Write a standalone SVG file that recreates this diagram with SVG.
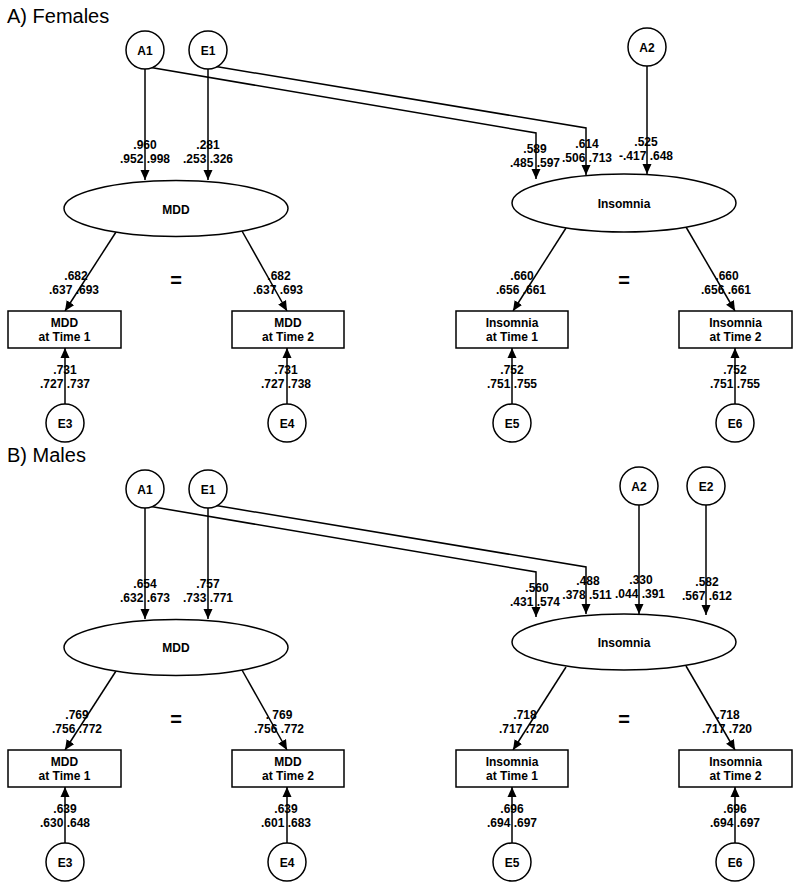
<svg xmlns="http://www.w3.org/2000/svg" width="800" height="889" viewBox="0 0 800 889">
<style>
.bg{fill:#fff}
.ln{fill:none;stroke:#000;stroke-width:1.5}
.sh{fill:#fff;stroke:#000;stroke-width:1.5}
.t{font-family:"Liberation Sans",Arial,sans-serif;font-size:12px;font-weight:bold;text-anchor:middle;fill:#000}
.ttl{font-family:"Liberation Sans",Arial,sans-serif;font-size:20px;fill:#000}
.eq{font-family:"Liberation Sans",Arial,sans-serif;font-size:20px;font-weight:bold;text-anchor:middle;fill:#000}
</style>
<defs>
<marker id="ah" markerUnits="userSpaceOnUse" markerWidth="10" markerHeight="10" refX="10" refY="5" orient="auto">
<path d="M0,0.5 L10,5 L0,9.5 z" fill="#000"/>
</marker>
</defs>
<rect class="bg" x="0" y="0" width="800" height="889"/>
<text class="ttl" x="7" y="23">A) Females</text>
<text class="ttl" x="7" y="462">B) Males</text>

<g id="connectors">
<!-- Panel A -->
<path class="ln" marker-end="url(#ah)" d="M145,69 L145,180"/>
<path class="ln" marker-end="url(#ah)" d="M208,69 L208,180"/>
<path class="ln" marker-end="url(#ah)" d="M148,67 L536,133 L536,179"/>
<path class="ln" marker-end="url(#ah)" d="M213,66 L586,128 L586,175"/>
<path class="ln" marker-end="url(#ah)" d="M647,66 L647,174"/>
<path class="ln" marker-end="url(#ah)" d="M116,232 L65,311"/>
<path class="ln" marker-end="url(#ah)" d="M242,231 L287,311"/>
<path class="ln" marker-end="url(#ah)" d="M566,228 L513,311"/>
<path class="ln" marker-end="url(#ah)" d="M686,227 L735,311"/>
<path class="ln" marker-end="url(#ah)" d="M65,404 L65,348"/>
<path class="ln" marker-end="url(#ah)" d="M287,404 L287,348"/>
<path class="ln" marker-end="url(#ah)" d="M512,404 L512,348"/>
<path class="ln" marker-end="url(#ah)" d="M735,404 L735,348"/>
<!-- Panel B -->
<path class="ln" marker-end="url(#ah)" d="M145,508 L145,619"/>
<path class="ln" marker-end="url(#ah)" d="M208,508 L208,619"/>
<path class="ln" marker-end="url(#ah)" d="M148,506 L536,572 L536,617"/>
<path class="ln" marker-end="url(#ah)" d="M213,505 L586,567 L586,614"/>
<path class="ln" marker-end="url(#ah)" d="M639,505 L639,614"/>
<path class="ln" marker-end="url(#ah)" d="M706,505 L706,615"/>
<path class="ln" marker-end="url(#ah)" d="M116,671 L65,750"/>
<path class="ln" marker-end="url(#ah)" d="M242,670 L287,750"/>
<path class="ln" marker-end="url(#ah)" d="M566,667 L513,750"/>
<path class="ln" marker-end="url(#ah)" d="M686,666 L735,750"/>
<path class="ln" marker-end="url(#ah)" d="M65,843 L65,787"/>
<path class="ln" marker-end="url(#ah)" d="M287,843 L287,787"/>
<path class="ln" marker-end="url(#ah)" d="M512,843 L512,787"/>
<path class="ln" marker-end="url(#ah)" d="M735,843 L735,787"/>
</g>

<g id="labels">
<text class="t" x="145" y="149">.960</text>
<text class="t" x="145" y="163">.952 .998</text>
<text class="t" x="208" y="149">.281</text>
<text class="t" x="208" y="163">.253 .326</text>
<text class="t" x="535" y="153">.589</text>
<text class="t" x="535" y="167">.485 .597</text>
<text class="t" x="587" y="148">.614</text>
<text class="t" x="587" y="162">.506 .713</text>
<text class="t" x="646" y="146">.525</text>
<text class="t" x="646" y="160">-.417 .648</text>
<text class="t" x="76" y="280">.682</text>
<text class="t" x="74" y="294">.637 .693</text>
<text class="t" x="279" y="280">.682</text>
<text class="t" x="278" y="294">.637 .693</text>
<text class="t" x="522" y="280">.660</text>
<text class="t" x="521" y="294">.656 .661</text>
<text class="t" x="727" y="280">.660</text>
<text class="t" x="726" y="294">.656 .661</text>
<text class="t" x="65" y="374">.731</text>
<text class="t" x="65" y="388">.727 .737</text>
<text class="t" x="286" y="374">.731</text>
<text class="t" x="286" y="388">.727 .738</text>
<text class="t" x="512" y="374">.752</text>
<text class="t" x="512" y="388">.751 .755</text>
<text class="t" x="735" y="374">.752</text>
<text class="t" x="735" y="388">.751 .755</text>
<text class="eq" x="176" y="287">=</text>
<text class="eq" x="624" y="287">=</text>

<text class="t" x="145" y="588">.654</text>
<text class="t" x="145" y="602">.632 .673</text>
<text class="t" x="208" y="588">.757</text>
<text class="t" x="208" y="602">.733 .771</text>
<text class="t" x="537" y="592">.560</text>
<text class="t" x="535" y="606">.431 .574</text>
<text class="t" x="588" y="585">.488</text>
<text class="t" x="587" y="599">.378 .511</text>
<text class="t" x="641" y="584">.330</text>
<text class="t" x="640" y="598">.044 .391</text>
<text class="t" x="707" y="586">.582</text>
<text class="t" x="707" y="600">.567 .612</text>
<text class="t" x="77" y="719">.769</text>
<text class="t" x="77" y="733">.756 .772</text>
<text class="t" x="279" y="719">. 769</text>
<text class="t" x="279" y="733">.756 .772</text>
<text class="t" x="525" y="719">.718</text>
<text class="t" x="524" y="733">.717 .720</text>
<text class="t" x="728" y="719">.718</text>
<text class="t" x="727" y="733">.717 .720</text>
<text class="t" x="65" y="813">.639</text>
<text class="t" x="65" y="827">.630 .648</text>
<text class="t" x="286" y="813">.639</text>
<text class="t" x="286" y="827">.601 .683</text>
<text class="t" x="512" y="813">.696</text>
<text class="t" x="512" y="827">.694 .697</text>
<text class="t" x="735" y="813">.696</text>
<text class="t" x="735" y="827">.694 .697</text>
<text class="eq" x="176" y="726">=</text>
<text class="eq" x="624" y="726">=</text>
</g>

<!-- Panel A nodes -->
<g id="A_A1"><circle class="sh" cx="145" cy="50" r="19"/><text class="t" x="145" y="54.5">A1</text></g>
<g id="A_E1"><circle class="sh" cx="208" cy="50" r="19"/><text class="t" x="208" y="54.5">E1</text></g>
<g id="A_A2"><circle class="sh" cx="647" cy="47" r="19"/><text class="t" x="647" y="51.5">A2</text></g>
<g id="A_MDD"><ellipse class="sh" cx="176" cy="208.5" rx="112" ry="28"/><text class="t" x="176" y="213.5">MDD</text></g>
<g id="A_Insomnia"><ellipse class="sh" cx="624" cy="203" rx="112" ry="29"/><text class="t" x="624" y="207.5">Insomnia</text></g>
<g id="A_MDD_T1"><rect class="sh" x="8" y="311" width="113" height="37"/><text class="t" x="64.5" y="327">MDD</text><text class="t" x="64.5" y="341">at Time 1</text></g>
<g id="A_MDD_T2"><rect class="sh" x="232" y="311" width="112" height="37"/><text class="t" x="288" y="327">MDD</text><text class="t" x="288" y="341">at Time 2</text></g>
<g id="A_Ins_T1"><rect class="sh" x="456" y="311" width="112" height="37"/><text class="t" x="512" y="327">Insomnia</text><text class="t" x="512" y="341">at Time 1</text></g>
<g id="A_Ins_T2"><rect class="sh" x="679" y="311" width="113" height="37"/><text class="t" x="735.5" y="327">Insomnia</text><text class="t" x="735.5" y="341">at Time 2</text></g>
<g id="A_E3"><circle class="sh" cx="65" cy="423" r="19"/><text class="t" x="65" y="427.5">E3</text></g>
<g id="A_E4"><circle class="sh" cx="287" cy="423" r="19"/><text class="t" x="287" y="427.5">E4</text></g>
<g id="A_E5"><circle class="sh" cx="512" cy="423" r="19"/><text class="t" x="512" y="427.5">E5</text></g>
<g id="A_E6"><circle class="sh" cx="735" cy="423" r="19"/><text class="t" x="735" y="427.5">E6</text></g>

<!-- Panel B nodes -->
<g id="B_A1"><circle class="sh" cx="145" cy="489" r="19"/><text class="t" x="145" y="493.5">A1</text></g>
<g id="B_E1"><circle class="sh" cx="208" cy="489" r="19"/><text class="t" x="208" y="493.5">E1</text></g>
<g id="B_A2"><circle class="sh" cx="639" cy="486" r="19"/><text class="t" x="639" y="490.5">A2</text></g>
<g id="B_E2"><circle class="sh" cx="706" cy="486" r="19"/><text class="t" x="706" y="490.5">E2</text></g>
<g id="B_MDD"><ellipse class="sh" cx="176" cy="647.5" rx="112" ry="28"/><text class="t" x="176" y="652">MDD</text></g>
<g id="B_Insomnia"><ellipse class="sh" cx="624" cy="642" rx="112" ry="28"/><text class="t" x="624" y="647">Insomnia</text></g>
<g id="B_MDD_T1"><rect class="sh" x="8" y="750" width="113" height="37"/><text class="t" x="64.5" y="766">MDD</text><text class="t" x="64.5" y="780">at Time 1</text></g>
<g id="B_MDD_T2"><rect class="sh" x="232" y="750" width="112" height="37"/><text class="t" x="288" y="766">MDD</text><text class="t" x="288" y="780">at Time 2</text></g>
<g id="B_Ins_T1"><rect class="sh" x="456" y="750" width="112" height="37"/><text class="t" x="512" y="766">Insomnia</text><text class="t" x="512" y="780">at Time 1</text></g>
<g id="B_Ins_T2"><rect class="sh" x="679" y="750" width="113" height="37"/><text class="t" x="735.5" y="766">Insomnia</text><text class="t" x="735.5" y="780">at Time 2</text></g>
<g id="B_E3"><circle class="sh" cx="65" cy="862" r="19"/><text class="t" x="65" y="866.5">E3</text></g>
<g id="B_E4"><circle class="sh" cx="287" cy="862" r="19"/><text class="t" x="287" y="866.5">E4</text></g>
<g id="B_E5"><circle class="sh" cx="512" cy="862" r="19"/><text class="t" x="512" y="866.5">E5</text></g>
<g id="B_E6"><circle class="sh" cx="735" cy="862" r="19"/><text class="t" x="735" y="866.5">E6</text></g>
</svg>
